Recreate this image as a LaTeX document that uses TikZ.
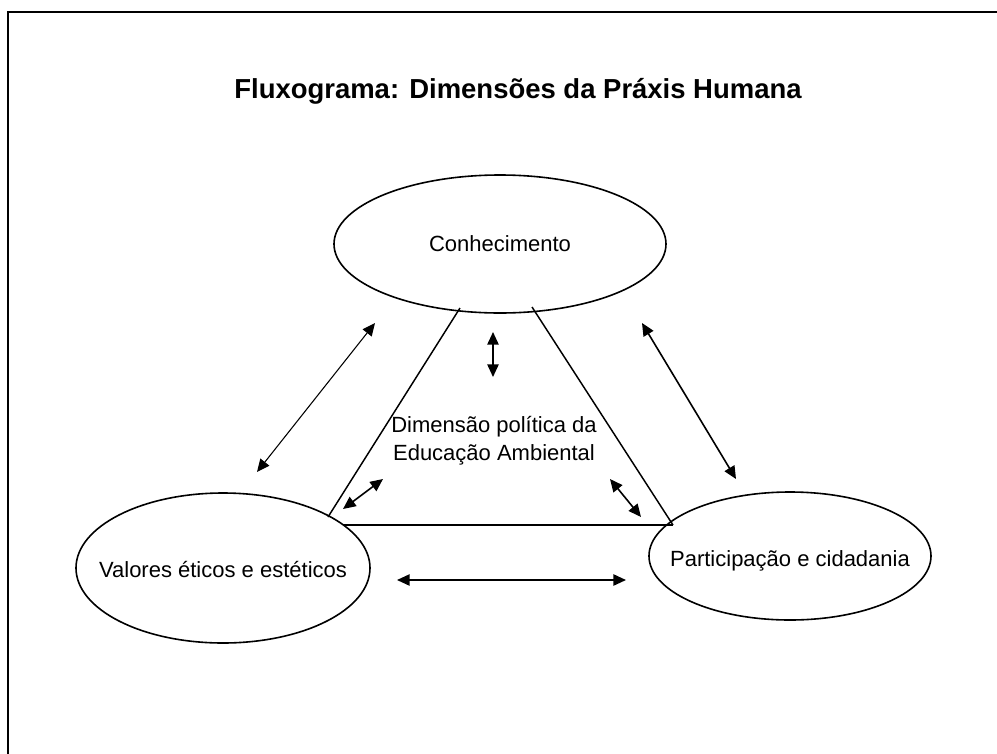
\documentclass[tikz,border=0pt]{standalone}
\usepackage{fontspec}
\setmainfont{Liberation Sans}
\usetikzlibrary{arrows.meta,shapes.geometric}
\begin{document}
\begin{tikzpicture}[x=0.75pt,y=-0.75pt,
  bubble/.style={draw,ellipse,line width=1.2pt,inner sep=0pt},
  label/.style={inner sep=0pt,font=\fontsize{16.5}{19}\selectfont},
  edgeline/.style={line width=1.1pt},
  dbl/.style={line width=1.2pt,{Triangle[length=9.5pt,width=8.5pt]}-{Triangle[length=9.5pt,width=8.5pt]}}]
\useasboundingbox (0,0) rectangle (997,754);
\draw[line width=2.2pt] (8,754) -- (8,12) -- (997,12);
\node[font=\bfseries\fontsize{20.6}{24}\selectfont] (title) at (518,91) {Fluxograma: Dimensões da Práxis Humana};
\node[bubble,minimum width=249pt,minimum height=103.5pt] (con) at (500,244) {};
\node[bubble,minimum width=220.5pt,minimum height=112.5pt] (val) at (223,568) {};
\node[bubble,minimum width=211.5pt,minimum height=96pt] (par) at (790,556) {};
\node[label] (conT) at (con.center) {Conhecimento};
\node[label] (valT) at ([yshift=-0.75pt]val.center) {Valores éticos e estéticos};
\node[label] (parT) at ([yshift=-3.5pt]par.center) {Participação e cidadania};
\node[align=center,font=\fontsize{16.5}{21}\selectfont] (dim) at (494,441) {Dimensão política da\\Educação Ambiental};
% trapezoid
\coordinate (tl) at (460,308);
\coordinate (tr) at (532,307);
\coordinate (bl) at (328,517);
\coordinate (br) at (673,525);
\coordinate (hb) at (343,525);
\draw[edgeline] (tl) -- (bl);
\draw[edgeline] (tr) -- (br);
\draw[edgeline] (hb) -- (br);
% arrows
\coordinate (a1s) at (493,332); \coordinate (a1e) at (493,377);
\coordinate (a2s) at (375,323); \coordinate (a2e) at (257,472);
\coordinate (a3s) at (383,479); \coordinate (a3e) at (343,509);
\coordinate (a4s) at (610,479); \coordinate (a4e) at (641,517);
\coordinate (a5s) at (642,323); \coordinate (a5e) at (736,479);
\coordinate (a6s) at (397,580); \coordinate (a6e) at (626,580);
\draw[dbl] (a1s) -- (a1e);
\draw[dbl,line width=0.8pt] (a2s) -- (a2e);
\draw[dbl] (a3s) -- (a3e);
\draw[dbl] (a4s) -- (a4e);
\draw[dbl] (a5s) -- (a5e);
\draw[dbl] (a6s) -- (a6e);
\end{tikzpicture}
\end{document}
